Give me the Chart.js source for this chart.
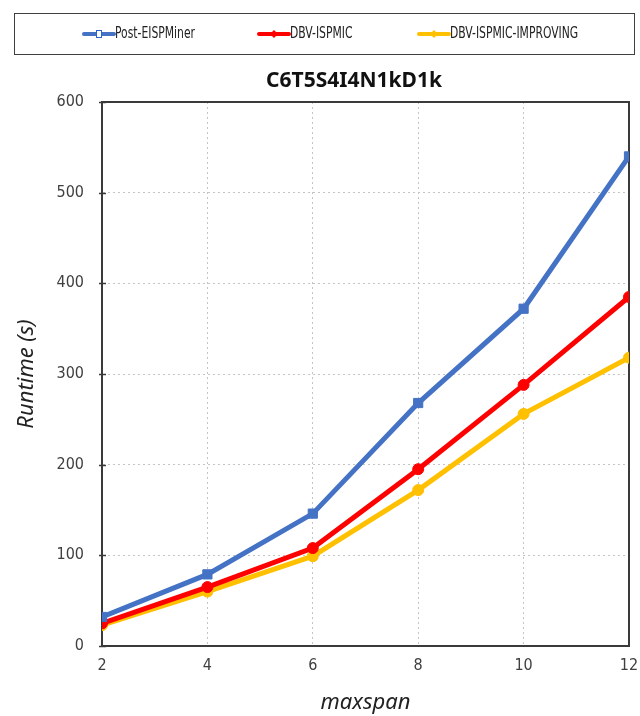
<!DOCTYPE html>
<html>
<head>
<meta charset="utf-8">
<script src="https://cdn.jsdelivr.net/npm/chart.js@4/dist/chart.umd.min.js"></script>
<style>
  html, body { margin: 0; padding: 0; background: #fff; }
  #wrap { width: 640px; height: 716px; position: relative; }
</style>
</head>
<body>
<div id="wrap"><canvas id="runtimeChart" width="640" height="716"></canvas></div>
<script>
// values
const maxspan = [2, 4, 6, 8, 10, 12];
const postEISPMiner = [32, 79, 146, 268, 372, 540];
const dbvIspmic = [25, 65, 108, 195, 288, 385];
const dbvIspmicImproving = [23, 60, 99, 172, 256, 318];
const seriesNames = ['Post-EISPMiner', 'DBV-ISPMIC', 'DBV-ISPMIC-IMPROVING'];
const chartTitle = 'C6T5S4I4N1kD1k';

const toPoints = (vals) => vals.map((v, i) => ({ x: maxspan[i], y: v }));

const narrowFont = "'Liberation Sans Narrow', 'DejaVu Sans Condensed', 'Noto Sans', sans-serif";
const mainFont = "'Noto Sans', 'Open Sans', sans-serif";

// legend in a framed box across the top, plus the title, drawn by hand
const boxLegend = {
  id: 'boxLegend',
  afterDraw(chart) {
    const ctx = chart.ctx;
    ctx.save();
    ctx.strokeStyle = '#404040';
    ctx.lineWidth = 1;
    ctx.strokeRect(14.5, 13.5, 620, 41);

    const starts = [84, 259, 419];
    const y = 34;
    ctx.font = '15px ' + narrowFont;
    ctx.textBaseline = 'middle';
    chart.data.datasets.forEach((ds, i) => {
      const x0 = starts[i];
      ctx.strokeStyle = ds.borderColor;
      ctx.lineWidth = 4;
      ctx.lineCap = 'round';
      ctx.beginPath();
      ctx.moveTo(x0, y);
      ctx.lineTo(x0 + 30, y);
      ctx.stroke();
      if (i === 0) {
        ctx.fillStyle = '#fff';
        ctx.fillRect(x0 + 12, y - 4, 6, 8);
        ctx.strokeStyle = '#2f5fd0';
        ctx.lineWidth = 1;
        ctx.strokeRect(x0 + 12.5, y - 3.5, 5, 7);
      } else {
        ctx.fillStyle = ds.borderColor;
        ctx.beginPath();
        ctx.moveTo(x0 + 15, y - 4);
        ctx.lineTo(x0 + 19, y);
        ctx.lineTo(x0 + 15, y + 4);
        ctx.lineTo(x0 + 11, y);
        ctx.closePath();
        ctx.fill();
      }
      ctx.fillStyle = '#222';
      const w = ctx.measureText(ds.label).width * 0.8;
      ctx.fillText(ds.label, x0 + 31, y, w);
    });

    // title sits a bit right of the canvas centre
    ctx.font = 'bold 21px ' + mainFont;
    ctx.textAlign = 'center';
    ctx.fillStyle = '#111';
    ctx.fillText(chartTitle, 354, 81);
    ctx.restore();
  }
};

// closed frame round the plot area
const plotFrame = {
  id: 'plotFrame',
  beforeDatasetsDraw(chart) {
    const a = chart.chartArea;
    const ctx = chart.ctx;
    ctx.save();
    ctx.strokeStyle = '#3a3a3a';
    ctx.lineWidth = 2;
    ctx.strokeRect(a.left, a.top, a.right - a.left, a.bottom - a.top);
    // short inner ticks on the value axis
    const ys = chart.scales.y;
    ys.ticks.forEach((t) => {
      const py = Math.round(ys.getPixelForValue(t.value)) + 0.5;
      ctx.lineWidth = 1.5;
      ctx.beginPath();
      ctx.moveTo(a.left - 3, py);
      ctx.lineTo(a.left + 4, py);
      ctx.stroke();
    });
    ctx.restore();
  }
};

new Chart(document.getElementById('runtimeChart'), {
  type: 'line',
  data: {
    datasets: [
      {
        label: seriesNames[0],
        data: toPoints(postEISPMiner),
        borderColor: '#4472C4',
        backgroundColor: '#4472C4',
        borderWidth: 5,
        pointStyle: 'rect',
        pointRadius: 6.5,
        pointBorderWidth: 1,
        pointHoverRadius: 6.5
      },
      {
        label: seriesNames[1],
        data: toPoints(dbvIspmic),
        borderColor: '#FF0000',
        backgroundColor: '#FF0000',
        borderWidth: 5,
        pointStyle: 'circle',
        pointRadius: 5.5,
        pointBorderWidth: 1,
        pointHoverRadius: 5.5
      },
      {
        label: seriesNames[2],
        data: toPoints(dbvIspmicImproving),
        borderColor: '#FFC000',
        backgroundColor: '#FFC000',
        borderWidth: 5,
        pointStyle: 'circle',
        pointRadius: 5.5,
        pointBorderWidth: 1,
        pointHoverRadius: 5.5
      }
    ]
  },
  options: {
    responsive: false,
    animation: false,
    layout: { padding: { top: 102, right: 11, left: 0, bottom: 0 } },
    plugins: {
      legend: { display: false },
      tooltip: { enabled: false },
      title: { display: false }
    },
    scales: {
      x: {
        type: 'linear',
        min: 2,
        max: 12,
        ticks: { stepSize: 2, color: '#404040', font: { family: narrowFont, size: 16 }, padding: 10 },
        grid: { color: '#c4c4c4', drawTicks: false },
        border: { display: true, color: '#3a3a3a', width: 2, dash: [2, 3] },
        title: {
          display: true,
          text: 'maxspan',
          color: '#222',
          font: { family: mainFont, size: 22, style: 'italic' },
          padding: { top: 8, bottom: 0 }
        },
        afterFit(scale) {
          scale.height = 70;
          scale.paddingRight = 0; // let "12" run toward the edge like the original
        }
      },
      y: {
        min: 0,
        max: 600,
        ticks: { stepSize: 100, color: '#404040', font: { family: narrowFont, size: 16 }, padding: 18 },
        grid: { color: '#c4c4c4', drawTicks: false },
        border: { display: true, color: '#3a3a3a', width: 2, dash: [2, 3] },
        title: {
          display: true,
          text: 'Runtime (s)',
          color: '#222',
          font: { family: mainFont, size: 22, style: 'italic' },
          padding: { top: 14, bottom: 0 }
        },
        afterFit(scale) { scale.width = 102; }
      }
    }
  },
  plugins: [boxLegend, plotFrame]
});
</script>
</body>
</html>
